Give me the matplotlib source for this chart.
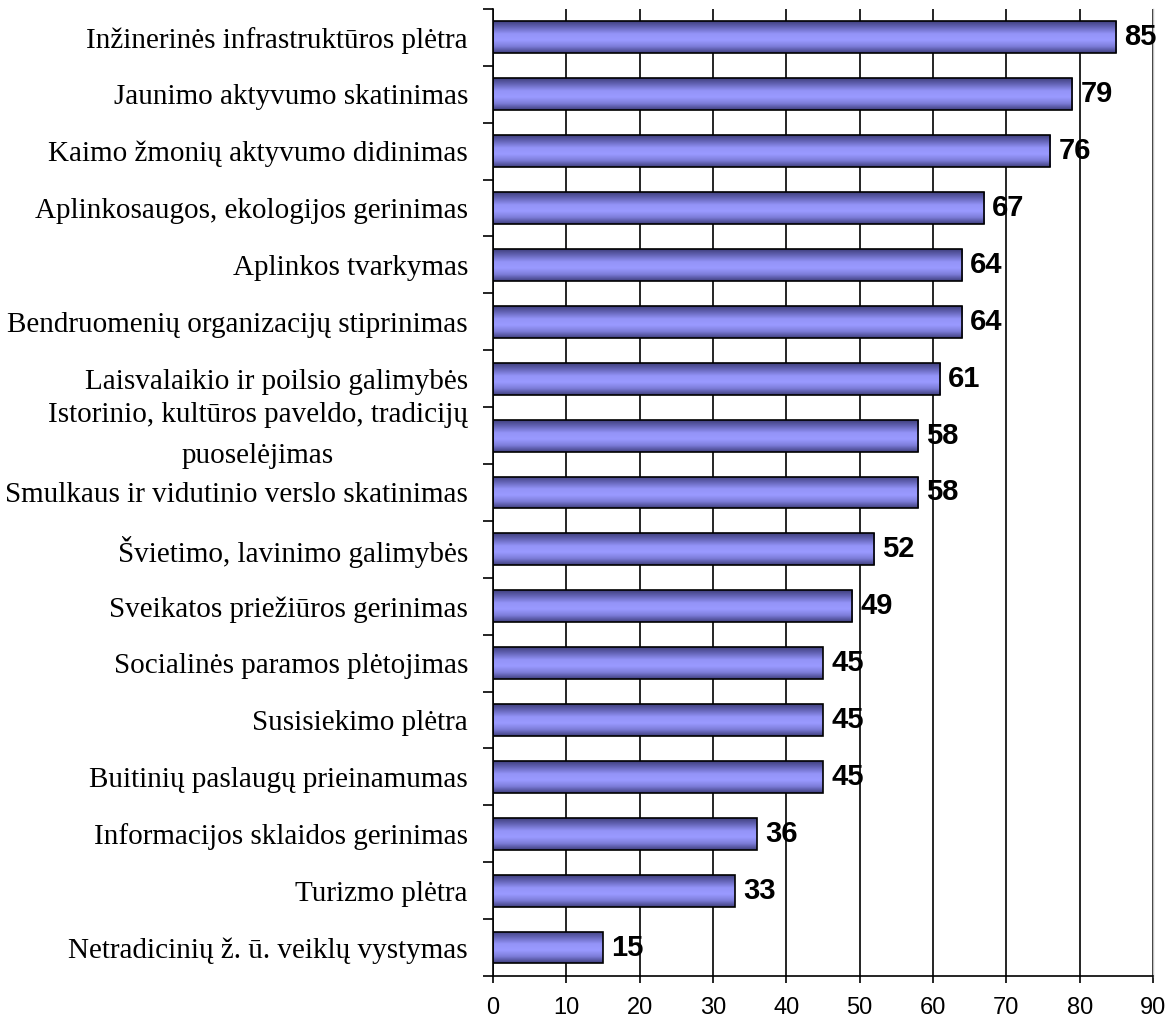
import numpy as np
import matplotlib.pyplot as plt
from matplotlib.colors import LinearSegmentedColormap

categories = [
    "Inžinerinės infrastruktūros plėtra",
    "Jaunimo aktyvumo skatinimas",
    "Kaimo žmonių aktyvumo didinimas",
    "Aplinkosaugos, ekologijos gerinimas",
    "Aplinkos tvarkymas",
    "Bendruomenių organizacijų stiprinimas",
    "Laisvalaikio ir poilsio galimybės",
    "Istorinio, kultūros paveldo, tradicijų\npuoselėjimas",
    "Smulkaus ir vidutinio verslo skatinimas",
    "Švietimo, lavinimo galimybės",
    "Sveikatos priežiūros gerinimas",
    "Socialinės paramos plėtojimas",
    "Susisiekimo plėtra",
    "Buitinių paslaugų prieinamumas",
    "Informacijos sklaidos gerinimas",
    "Turizmo plėtra",
    "Netradicinių ž. ū. veiklų vystymas",
]
values = [85, 79, 76, 67, 64, 64, 61, 58, 58, 52, 49, 45, 45, 45, 36, 33, 15]
xticks = [0, 10, 20, 30, 40, 50, 60, 70, 80, 90]

fig = plt.figure(figsize=(11.71, 10.17), dpi=100)
ax = fig.add_axes([0.421, 0.0403, 0.9846 - 0.421, 0.9912 - 0.0403])

cmap = LinearSegmentedColormap.from_list(
    "bar", ["#40407f", "#6868bc", "#9494f8", "#9a9aff", "#7c7cd8", "#40407f"])
grad = np.linspace(0, 1, 64).reshape(-1, 1)

y = np.arange(len(categories))
bars = ax.barh(y, values, height=0.56, color="none", edgecolor="black",
               linewidth=1.2, zorder=3)
for b in bars:
    x0, y0 = b.get_x(), b.get_y()
    im = ax.imshow(grad, extent=[x0, x0 + b.get_width(), y0, y0 + b.get_height()],
                   aspect="auto", cmap=cmap, origin="lower", zorder=2,
                   interpolation="bilinear")
    im.set_clip_path(b)

for yi, v in zip(y, values):
    ax.text(v + 1.1, yi, str(v), va="center", ha="left", fontsize=21,
            fontweight="bold", family="Liberation Sans", zorder=4)

ax.set_xlim(0, 90)
ax.set_ylim(len(categories) - 0.5, -0.5)
ax.set_xticks(xticks)
ax.set_xticklabels([str(t) for t in xticks], family="Liberation Sans", fontsize=17)
ax.tick_params(axis="x", direction="out", length=5, width=1.2, pad=10)

ax.set_yticks(np.arange(-0.5, len(categories), 1.0))
ax.set_yticklabels([])
ax.set_yticks(y, labels=categories, minor=True)
ax.tick_params(axis="y", which="major", direction="out", length=7, width=1.2)
ax.tick_params(axis="y", which="minor", length=0, pad=18)
for lab in ax.get_yticklabels(minor=True):
    lab.set_fontfamily("Liberation Serif")
    lab.set_fontsize(21)
    lab.set_multialignment("center")
    lab.set_linespacing(1.75)
    if "\n" in lab.get_text():
        lab.set_verticalalignment("center")

ax.xaxis.grid(True, color="black", linewidth=1.2, zorder=1)
ax.set_axisbelow(True)
ax.spines["top"].set_visible(False)
ax.spines["right"].set_color("#c0c0c0")
ax.spines["right"].set_linewidth(1.0)
ax.spines["left"].set_linewidth(1.2)
ax.spines["bottom"].set_linewidth(1.2)

fig.savefig("out.png", dpi=100)
